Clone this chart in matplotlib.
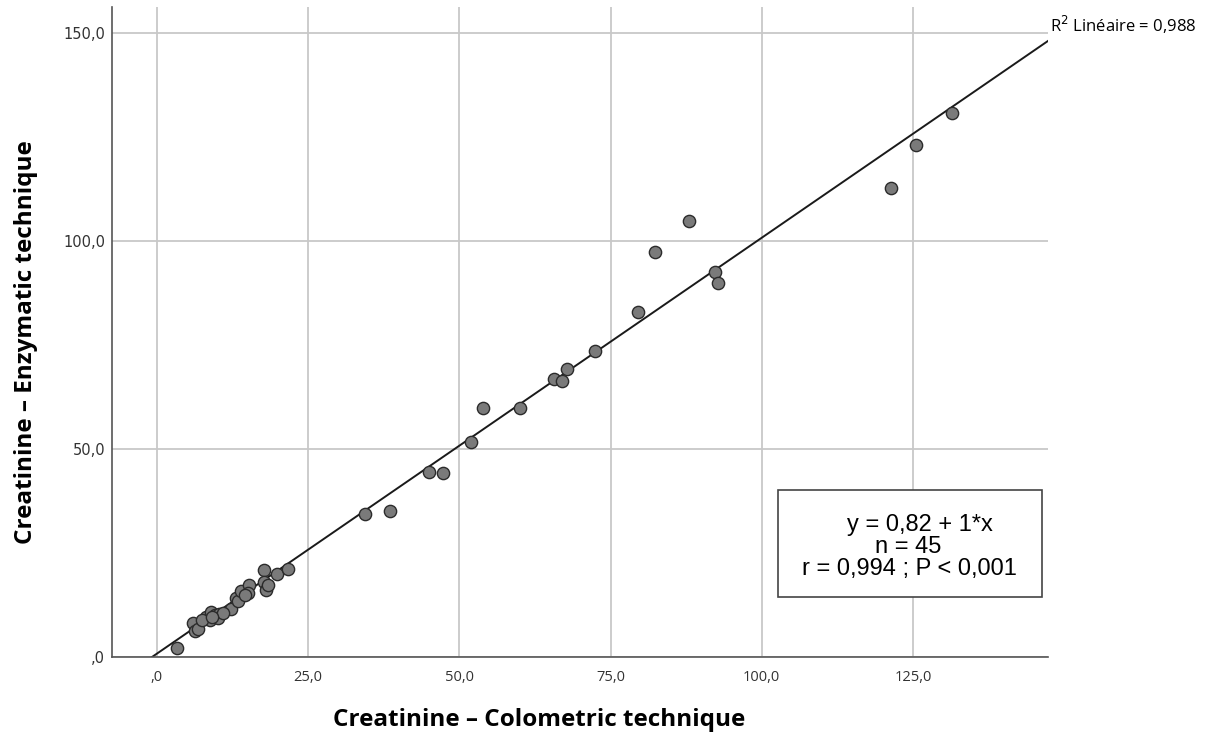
import matplotlib
matplotlib.use("Agg")
import matplotlib.pyplot as plt
from matplotlib.patches import Rectangle
from matplotlib.ticker import FuncFormatter
import numpy as np

# values (creatinine, two techniques)
colometric = [3.4, 6.0, 6.3, 6.8, 8.1, 8.9, 8.8, 9.6, 10.3, 10.1,
              12.2, 13.1, 13.5, 14.0, 15.2, 15.1, 17.7, 17.7, 18.0, 18.4,
              19.9, 21.7, 7.5, 11.0, 14.5, 9.2,
              34.4, 38.5, 45.0, 47.3, 51.9, 53.9, 60.0, 65.6, 67.0, 67.8,
              72.4, 79.6, 82.3, 88.0, 92.2, 92.8, 121.3, 125.5, 131.5]
enzymatic = [2.3, 8.1, 6.3, 6.7, 9.7, 10.9, 8.9, 10.1, 10.3, 9.3,
             11.5, 14.1, 13.5, 15.9, 17.3, 15.3, 20.9, 18.1, 16.1, 17.3,
             19.9, 21.3, 9.0, 10.5, 15.0, 9.6,
             34.3, 35.1, 44.4, 44.2, 51.6, 60.0, 59.9, 66.9, 66.5, 69.2,
             73.6, 82.9, 97.4, 104.9, 92.6, 89.9, 112.7, 123.0, 130.7]

intercept = 0.82
slope = 1.0
x_ticks = [0, 25, 50, 75, 100, 125]
y_ticks = [0, 50, 100, 150]
stats_lines = ["y = 0,82 + 1*x", "n = 45", "r = 0,994 ; P < 0,001"]
r2_label = "R$^2$ Linéaire = 0,988"


def comma_fmt(v, pos):
    s = f"{v:.1f}".replace(".", ",")
    if s.startswith("0,"):
        s = s[1:]
    return s


fig = plt.figure(figsize=(12.06, 7.40), dpi=100)
ax = fig.add_axes([0.0929, 0.112, 0.776, 0.878])

xmin, xmax = -7.4, 147.3
ax.set_xlim(xmin, xmax)
ax.set_ylim(0, 156.2)

ax.set_xticks(x_ticks)
ax.set_yticks(y_ticks)
ax.xaxis.set_major_formatter(FuncFormatter(comma_fmt))
ax.yaxis.set_major_formatter(FuncFormatter(comma_fmt))
ax.grid(True, color="#c8c8c8", linewidth=1.3)
ax.set_axisbelow(True)
for side in ["top", "right"]:
    ax.spines[side].set_visible(False)
for side in ["left", "bottom"]:
    ax.spines[side].set_color("#555555")
    ax.spines[side].set_linewidth(1.2)
ax.tick_params(axis="x", length=0, pad=9, labelsize=10.5,
               labelcolor="#333333", labelfontfamily="Open Sans")
ax.tick_params(axis="y", length=0, pad=5, labelsize=10.5,
               labelcolor="#333333", labelfontfamily="DejaVu Sans")

# fit line
lx = np.array([-intercept / slope, xmax])
ax.plot(lx, intercept + slope * lx, color="#1a1a1a", linewidth=1.4, zorder=2)

ax.scatter(colometric, enzymatic, s=78, facecolor="#7a7a7a",
           edgecolor="#2b2b2b", linewidth=1.0, zorder=3)

ax.text(xmax + 0.4, intercept + slope * xmax + 1.2, r2_label,
        fontsize=12, fontfamily="Open Sans", ha="left", va="bottom",
        clip_on=False)

ax.add_patch(Rectangle((0.7115, 0.0923), 0.2821, 0.1646, transform=ax.transAxes,
                       facecolor="white", edgecolor="#444444", linewidth=1.2,
                       zorder=4))
line_pos = [(0.7853, 0.2031), (0.8152, 0.1692), (0.7372, 0.1354)]
for txt, (tx, ty) in zip(stats_lines, line_pos):
    ax.text(tx, ty, txt, transform=ax.transAxes, ha="left", va="center",
            fontsize=17, fontfamily="Liberation Sans", zorder=5)

ax.set_xlabel("Creatinine – Colometric technique", fontsize=17.5,
              fontweight="bold", fontfamily="Open Sans")
ax.set_ylabel("Creatinine – Enzymatic technique", fontsize=17.5,
              fontweight="bold", fontfamily="Open Sans")
ax.xaxis.set_label_coords(0.456, -0.078)
ax.yaxis.set_label_coords(-0.079, 0.4846)

fig.savefig("out.png", dpi=100)
